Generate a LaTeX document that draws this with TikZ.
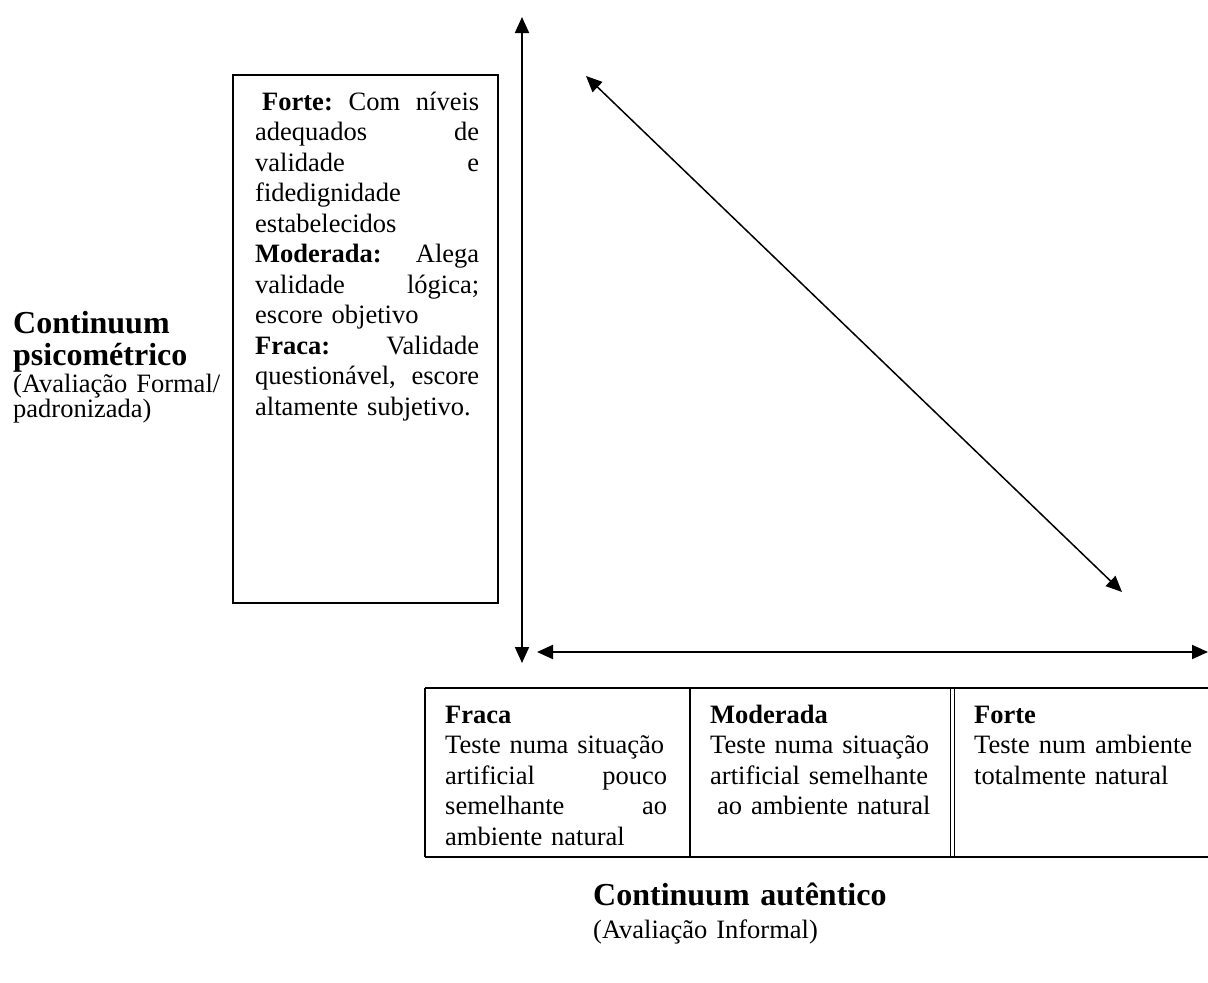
\documentclass[tikz,border=0pt]{standalone}
\usepackage{fontspec}
\setmainfont{Liberation Serif}
\usetikzlibrary{arrows.meta,positioning}
\tikzset{
    seta/.style={line width=2pt,{Triangle[length=16pt,width=14pt]}-{Triangle[length=16pt,width=14pt]}},
    texto/.style={inner sep=0pt,anchor=base west,align=left,text width=#1,
        font=\fontsize{26.5}{30.5}\selectfont},
    titulo/.style={inner sep=0pt,anchor=base west,align=left,text width=#1,
        font=\fontsize{32}{32}\selectfont\bfseries},
}
\begin{document}
\begin{tikzpicture}[x=1pt,y=-1pt]
\useasboundingbox (0,0) rectangle (1208,983);
% eixos
\coordinate (topo) at (522,17);
\coordinate (origem) at (522,663);
\coordinate (esq) at (537,652);
\coordinate (dir) at (1208,652);
\coordinate (diagA) at (586,76);
\coordinate (diagB) at (1122,592);
\draw[seta] (topo) -- (origem);
\draw[seta] (esq) -- (dir);
\draw[seta,line width=1.5pt] (diagA) -- (diagB);
% caixa do continuum psicometrico
\draw[line width=2pt] (233,75) rectangle (498,603);
\node[texto=224pt] (psico) at (255,110) {%
\hspace*{7pt}\textbf{Forte:}\hfill Com\hfill níveis\\
adequados\hfill de\\
validade\hfill e\\
fidedignidade\\
estabelecidos\\
\textbf{Moderada:}\hfill Alega\\
validade\hfill lógica;\\
escore objetivo\\
\textbf{Fraca:}\hfill Validade\\
questionável,\hfill escore\\
altamente subjetivo.};
\node[titulo=240pt] (tituloPsico) at (13,333) {Continuum\\psicométrico};
\node[texto=240pt,font=\fontsize{26.5}{23}\selectfont] (subPsico) at (13,392)
    {(Avaliação Formal/\\padronizada)};
% tabela do continuum autentico
\draw[line width=1.5pt] (425,688) -- (1208,688);
\draw[line width=1.5pt] (425,857) -- (1208,857);
\draw[line width=1.5pt] (425,688) -- (425,857);
\draw[line width=1.5pt] (690,688) -- (690,857);
\draw[line width=1.2pt] (950.5,688) -- (950.5,857);
\draw[line width=1.2pt] (954.5,688) -- (954.5,857);
\node[texto=222pt] (fraca) at (445,723) {%
\textbf{Fraca}\\
Teste numa situação\\
artificial\hfill pouco\\
semelhante\hfill ao\\
ambiente natural};
\node[texto=222pt] (moderada) at (710,723) {%
\textbf{Moderada}\\
Teste numa situação\\
artificial semelhante\\
\hspace*{7pt}ao ambiente natural};
\node[texto=218pt] (forte) at (974,723) {%
\textbf{Forte}\\
Teste\hfill num\hfill ambiente\\
totalmente natural};
\node[titulo=300pt] (tituloAut) at (593,905) {Continuum autêntico};
\node[texto=300pt] (subAut) at (593,938) {(Avaliação Informal)};
\end{tikzpicture}
\end{document}
